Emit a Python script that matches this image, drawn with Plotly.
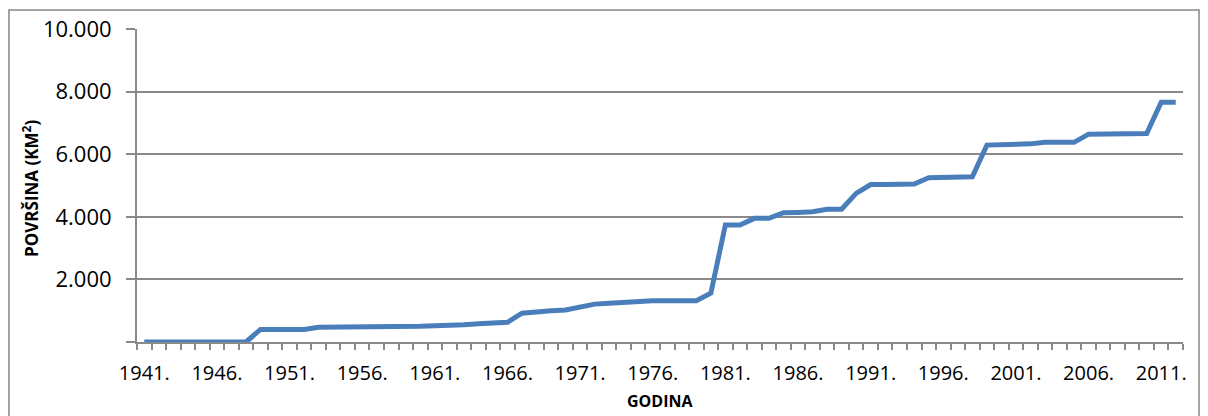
import plotly.graph_objects as go

years = list(range(1941, 2013))
area_km2 = [
    0, 0, 0, 0, 0, 0, 0, 0,            # 1941-1948
    400, 400, 400, 400,                # 1949-1952
    470, 470, 470, 470, 470, 470, 470, # 1953-1959
    500, 520, 520, 550, 580, 610, 630, # 1960-1966
    920, 970, 1000, 1022, 1120, 1210, 1240, 1270,  # 1967-1974
    1320, 1320, 1320, 1320, 1320,      # 1975-1979
    1560, 3740, 3740, 3950, 3950,      # 1980-1984
    4130, 4140, 4160, 4240, 4240,      # 1985-1989
    4750, 5030, 5035, 5040, 5050,      # 1990-1994
    5250, 5250, 5250, 5280, 6290,      # 1995-1999
    6300, 6330, 6330, 6380, 6380,      # 2000-2004
    6380, 6640, 6640, 6640, 6640,      # 2005-2009
    6660, 7660, 7660,                  # 2010-2012
]
x_tick_years = list(range(1941, 2013, 5))
x_tick_labels = [f"{y}." for y in x_tick_years]
y_tick_vals = [0, 2000, 4000, 6000, 8000, 10000]
y_tick_labels = ["", "2.000", "4.000", "6.000", "8.000", "10.000"]

GRID = "#8a8a8a"
FONT = "Open Sans"

fig = go.Figure()
fig.add_trace(go.Scatter(
    x=years, y=area_km2, mode="lines",
    line=dict(color="#4a7ebb", width=5),
    hoverinfo="x+y", showlegend=False,
))

# page body has an 8px default margin, so the figure is sized 1200x408
fig.update_layout(
    width=1200, height=408,
    margin=dict(l=129, r=25, t=21, b=74, autoexpand=False),
    paper_bgcolor="white", plot_bgcolor="white",
    font=dict(family=FONT, color="#000000"),
    xaxis=dict(
        range=[1940.5, 2012.5],
        tickvals=x_tick_years, ticktext=x_tick_labels,
        ticks="", showgrid=False, zeroline=False,
        showline=True, linecolor=GRID, linewidth=2,
        tickfont=dict(family=FONT, size=20),
        ticklabelstandoff=12,
        minor=dict(tick0=1940.5, dtick=1, ticks="outside", ticklen=6,
                   tickcolor=GRID, tickwidth=2, showgrid=False),
        automargin=False, fixedrange=True,
    ),
    yaxis=dict(
        range=[0, 10000],
        tickvals=y_tick_vals, ticktext=y_tick_labels,
        ticks="outside", ticklen=9, tickcolor=GRID, tickwidth=2,
        showgrid=True, gridcolor=GRID, gridwidth=2,
        zeroline=False, showline=True, linecolor=GRID, linewidth=2,
        tickfont=dict(family=FONT, size=22),
        ticklabelstandoff=10,
        automargin=False, fixedrange=True,
    ),
    annotations=[
        dict(text="<b>GODINA</b>", x=0.5, y=-0.19, xref="paper", yref="paper",
             showarrow=False, xanchor="center", yanchor="middle",
             font=dict(family=FONT, size=16)),
        dict(text="<b>POVRŠINA (KM<sup>2</sup>)</b>", x=-0.102, y=0.49,
             xref="paper", yref="paper", textangle=-90,
             showarrow=False, xanchor="center", yanchor="middle",
             font=dict(family=FONT, size=17)),
    ],
    shapes=[
        dict(type="rect", xref="paper", yref="paper",
             x0=-0.1224, x1=1.0153, y0=-0.30, y1=1.0607,
             line=dict(color="#868686", width=1.5), layer="below"),
    ],
)

fig.write_html("out.html")
